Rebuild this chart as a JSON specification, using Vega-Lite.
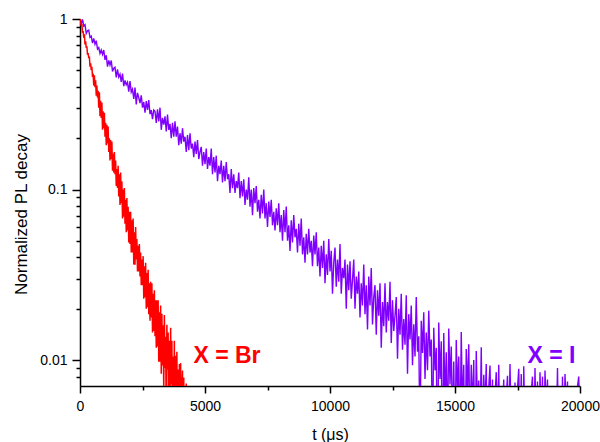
{
"$schema": "https://vega.github.io/schema/vega-lite/v6.json",
"width": 500,
"height": 367,
"autosize": {"type": "none"},
"padding": {"left": 80, "top": 19, "right": 20, "bottom": 56},
"background": "white",
"config": {"view": {"stroke": null}},
"datasets": {
"iodide": [
{"t":0,"v":1},{"t":50,"v":0.936},{"t":100,"v":0.994},{"t":150,"v":0.910},{"t":200,"v":0.926},{"t":250,"v":0.824},{"t":300,"v":0.852},{"t":350,"v":0.861},{"t":400,"v":0.780},{"t":450,"v":0.793},
{"t":500,"v":0.722},{"t":550,"v":0.770},{"t":600,"v":0.711},{"t":650,"v":0.746},{"t":700,"v":0.666},{"t":750,"v":0.680},{"t":800,"v":0.628},{"t":850,"v":0.658},{"t":900,"v":0.620},{"t":950,"v":0.658},
{"t":1000,"v":0.576},{"t":1050,"v":0.613},{"t":1100,"v":0.525},{"t":1150,"v":0.572},{"t":1200,"v":0.537},{"t":1250,"v":0.571},{"t":1300,"v":0.493},{"t":1350,"v":0.515},{"t":1400,"v":0.521},{"t":1450,"v":0.454},
{"t":1500,"v":0.507},{"t":1550,"v":0.457},{"t":1600,"v":0.475},{"t":1650,"v":0.428},{"t":1700,"v":0.479},{"t":1750,"v":0.404},{"t":1800,"v":0.437},{"t":1850,"v":0.411},{"t":1900,"v":0.426},{"t":1950,"v":0.375},
{"t":2000,"v":0.432},{"t":2050,"v":0.373},{"t":2100,"v":0.388},{"t":2150,"v":0.340},{"t":2200,"v":0.396},{"t":2250,"v":0.316},{"t":2300,"v":0.369},{"t":2350,"v":0.346},{"t":2400,"v":0.321},{"t":2450,"v":0.357},
{"t":2500,"v":0.302},{"t":2550,"v":0.326},{"t":2600,"v":0.282},{"t":2650,"v":0.330},{"t":2700,"v":0.293},{"t":2750,"v":0.335},{"t":2800,"v":0.277},{"t":2850,"v":0.292},{"t":2900,"v":0.259},{"t":2950,"v":0.293},
{"t":3000,"v":0.288},{"t":3050,"v":0.246},{"t":3100,"v":0.295},{"t":3150,"v":0.251},{"t":3200,"v":0.302},{"t":3250,"v":0.224},{"t":3300,"v":0.263},{"t":3350,"v":0.240},{"t":3400,"v":0.269},{"t":3450,"v":0.219},
{"t":3500,"v":0.275},{"t":3550,"v":0.224},{"t":3600,"v":0.243},{"t":3650,"v":0.200},{"t":3700,"v":0.246},{"t":3750,"v":0.204},{"t":3800,"v":0.251},{"t":3850,"v":0.204},{"t":3900,"v":0.234},{"t":3950,"v":0.182},
{"t":4000,"v":0.214},{"t":4050,"v":0.186},{"t":4100,"v":0.229},{"t":4150,"v":0.191},{"t":4200,"v":0.204},{"t":4250,"v":0.166},{"t":4300,"v":0.209},{"t":4350,"v":0.170},{"t":4400,"v":0.214},{"t":4450,"v":0.174},
{"t":4500,"v":0.186},{"t":4550,"v":0.155},{"t":4600,"v":0.191},{"t":4650,"v":0.162},{"t":4700,"v":0.195},{"t":4750,"v":0.151},{"t":4800,"v":0.166},{"t":4850,"v":0.178},{"t":4900,"v":0.138},{"t":4950,"v":0.166},
{"t":5000,"v":0.141},{"t":5050,"v":0.174},{"t":5100,"v":0.132},{"t":5150,"v":0.155},{"t":5200,"v":0.138},{"t":5250,"v":0.174},{"t":5300,"v":0.123},{"t":5350,"v":0.155},{"t":5400,"v":0.126},{"t":5450,"v":0.158},
{"t":5500,"v":0.112},{"t":5550,"v":0.138},{"t":5600,"v":0.123},{"t":5650,"v":0.148},{"t":5700,"v":0.110},{"t":5750,"v":0.138},{"t":5800,"v":0.112},{"t":5850,"v":0.145},{"t":5900,"v":0.115},{"t":5950,"v":0.123},
{"t":6000,"v":0.0955},{"t":6050,"v":0.132},{"t":6100,"v":0.102},{"t":6150,"v":0.123},{"t":6200,"v":0.0955},{"t":6250,"v":0.112},{"t":6300,"v":0.102},{"t":6350,"v":0.126},{"t":6400,"v":0.0891},{"t":6450,"v":0.112},
{"t":6500,"v":0.0912},{"t":6550,"v":0.115},{"t":6600,"v":0.0813},{"t":6650,"v":0.100},{"t":6700,"v":0.0871},{"t":6750,"v":0.118},{"t":6800,"v":0.0794},{"t":6850,"v":0.100},{"t":6900,"v":0.0708},{"t":6950,"v":0.102},
{"t":7000,"v":0.0832},{"t":7050,"v":0.105},{"t":7100,"v":0.0741},{"t":7150,"v":0.0871},{"t":7200,"v":0.0676},{"t":7250,"v":0.0933},{"t":7300,"v":0.0724},{"t":7350,"v":0.100},{"t":7400,"v":0.0676},{"t":7450,"v":0.0832},
{"t":7500,"v":0.0603},{"t":7550,"v":0.0851},{"t":7600,"v":0.0692},{"t":7650,"v":0.0871},{"t":7700,"v":0.0617},{"t":7750,"v":0.0741},{"t":7800,"v":0.0575},{"t":7850,"v":0.0776},{"t":7900,"v":0.0617},{"t":7950,"v":0.0832},
{"t":8000,"v":0.0562},{"t":8050,"v":0.0708},{"t":8100,"v":0.0501},{"t":8150,"v":0.0759},{"t":8200,"v":0.0562},{"t":8250,"v":0.0794},{"t":8300,"v":0.0501},{"t":8350,"v":0.0617},{"t":8400,"v":0.0437},{"t":8450,"v":0.0661},
{"t":8500,"v":0.0490},{"t":8550,"v":0.0708},{"t":8600,"v":0.0525},{"t":8650,"v":0.0589},{"t":8700,"v":0.0427},{"t":8750,"v":0.0631},{"t":8800,"v":0.0468},{"t":8850,"v":0.0676},{"t":8900,"v":0.0417},{"t":8950,"v":0.0525},
{"t":9000,"v":0.0372},{"t":9050,"v":0.0550},{"t":9100,"v":0.0417},{"t":9150,"v":0.0589},{"t":9200,"v":0.0427},{"t":9250,"v":0.0501},{"t":9300,"v":0.0355},{"t":9350,"v":0.0537},{"t":9400,"v":0.0417},{"t":9450,"v":0.0562},
{"t":9500,"v":0.0355},{"t":9550,"v":0.0457},{"t":9600,"v":0.0309},{"t":9650,"v":0.0468},{"t":9700,"v":0.0347},{"t":9750,"v":0.0501},{"t":9800,"v":0.0282},{"t":9850,"v":0.0417},{"t":9900,"v":0.0316},{"t":9950,"v":0.0513},
{"t":10000,"v":0.0331},{"t":10050,"v":0.0437},{"t":10100,"v":0.0245},{"t":10150,"v":0.0372},{"t":10200,"v":0.0457},{"t":10250,"v":0.0269},{"t":10300,"v":0.0389},{"t":10350,"v":0.0288},{"t":10400,"v":0.0479},{"t":10450,"v":0.0245},
{"t":10500,"v":0.0347},{"t":10550,"v":0.0302},{"t":10600,"v":0.0389},{"t":10650,"v":0.0200},{"t":10700,"v":0.0363},{"t":10750,"v":0.0257},{"t":10800,"v":0.0380},{"t":10850,"v":0.0229},{"t":10900,"v":0.0295},{"t":10950,"v":0.0389},
{"t":11000,"v":0.0200},{"t":11050,"v":0.0309},{"t":11100,"v":0.0245},{"t":11150,"v":0.0331},{"t":11200,"v":0.0178},{"t":11250,"v":0.0282},{"t":11300,"v":0.0209},{"t":11350,"v":0.0363},{"t":11400,"v":0.0186},{"t":11450,"v":0.0275},
{"t":11500,"v":0.0151},{"t":11550,"v":0.0309},{"t":11600,"v":0.0209},{"t":11650,"v":0.0347},{"t":11700,"v":0.0162},{"t":11750,"v":0.0234},{"t":11800,"v":0.0275},{"t":11850,"v":0.0141},{"t":11900,"v":0.0257},{"t":11950,"v":0.0182},
{"t":12000,"v":0.0282},{"t":12050,"v":0.0118},{"t":12100,"v":0.0219},{"t":12150,"v":0.0158},{"t":12200,"v":0.0282},{"t":12250,"v":0.0145},{"t":12300,"v":0.0219},{"t":12350,"v":0.0170},{"t":12400,"v":0.0288},{"t":12450,"v":0.0126},
{"t":12500,"v":0.0224},{"t":12550,"v":0.0148},{"t":12600,"v":0.0182},{"t":12650,"v":0.0234},{"t":12700,"v":0.0102},{"t":12750,"v":0.0200},{"t":12800,"v":0.0141},{"t":12850,"v":0.0245},{"t":12900,"v":0.0115},{"t":12950,"v":0.0174},
{"t":13000,"v":0.0123},{"t":13050,"v":0.0240},{"t":13100,"v":0.00832},{"t":13150,"v":0.0186},{"t":13200,"v":0.0132},{"t":13250,"v":0.0209},{"t":13300,"v":0.00933},{"t":13350,"v":0.0162},{"t":13400,"v":0.0105},{"t":13450,"v":0.0234},
{"t":13500,"v":0.0112},{"t":13550,"v":0.0138},{"t":13600,"v":0.0033},{"t":13650,"v":0.0170},{"t":13700,"v":0.0110},{"t":13750,"v":0.0191},{"t":13800,"v":0.00776},{"t":13850,"v":0.0145},{"t":13900,"v":0.00871},{"t":13950,"v":0.0195},
{"t":14000,"v":0.0105},{"t":14050,"v":0.0132},{"t":14100,"v":0.0030},{"t":14150,"v":0.0155},{"t":14200,"v":0.00871},{"t":14250,"v":0.0118},{"t":14300,"v":0.0020},{"t":14350,"v":0.0166},{"t":14400,"v":0.00776},{"t":14450,"v":0.0129},
{"t":14500,"v":0.0020},{"t":14550,"v":0.0144},{"t":14600,"v":0.0058},{"t":14650,"v":0.0111},{"t":14700,"v":0.0035},{"t":14750,"v":0.0153},{"t":14800,"v":0.0072},{"t":14850,"v":0.0120},{"t":14900,"v":0.0039},{"t":14950,"v":0.0098},
{"t":15000,"v":0.0027},{"t":15050,"v":0.0131},{"t":15100,"v":0.0065},{"t":15150,"v":0.0105},{"t":15200,"v":0.0032},{"t":15250,"v":0.0146},{"t":15300,"v":0.0050},{"t":15350,"v":0.0094},{"t":15400,"v":0.0017},{"t":15450,"v":0.0116},
{"t":15500,"v":0.0065},{"t":15550,"v":0.0124},{"t":15600,"v":0.0033},{"t":15650,"v":0.0094},{"t":15700,"v":0.0051},{"t":15750,"v":0.0100},{"t":15800,"v":0.0019},{"t":15850,"v":0.0113},{"t":15900,"v":0.0052},{"t":15950,"v":0.0076},
{"t":16000,"v":0.0035},{"t":16050,"v":0.0119},{"t":16100,"v":0.0028},{"t":16150,"v":0.0082},{"t":16200,"v":0.0051},{"t":16250,"v":0.0095},{"t":16300,"v":0.0019},{"t":16350,"v":0.0069},{"t":16400,"v":0.0093},{"t":16450,"v":0.0038},
{"t":16500,"v":0.0077},{"t":16550,"v":0.0022},{"t":16600,"v":0.0061},{"t":16650,"v":0.0085},{"t":16700,"v":0.0040},{"t":16750,"v":0.0094},{"t":16800,"v":0.0024},{"t":16850,"v":0.0068},{"t":16900,"v":0.0048},{"t":16950,"v":0.0077},
{"t":17000,"v":0.0012},{"t":17050,"v":0.0061},{"t":17100,"v":0.0081},{"t":17150,"v":0.0031},{"t":17200,"v":0.0095},{"t":17250,"v":0.0040},{"t":17300,"v":0.0055},{"t":17350,"v":0.0020},{"t":17400,"v":0.0074},{"t":17450,"v":0.0034},
{"t":17500,"v":0.0068},{"t":17550,"v":0.0089},{"t":17600,"v":0.0028},{"t":17650,"v":0.0083},{"t":17700,"v":0.0018},{"t":17750,"v":0.0092},{"t":17800,"v":0.0037},{"t":17850,"v":0.0057},{"t":17900,"v":0.0022},{"t":17950,"v":0.0062},
{"t":18000,"v":0.0012},{"t":18050,"v":0.0066},{"t":18100,"v":0.0080},{"t":18150,"v":0.0025},{"t":18200,"v":0.0090},{"t":18250,"v":0.0035},{"t":18300,"v":0.0075},{"t":18350,"v":0.0015},{"t":18400,"v":0.0085},{"t":18450,"v":0.0040},
{"t":18500,"v":0.0080},{"t":18550,"v":0.0020},{"t":18600,"v":0.0087},{"t":18650,"v":0.0050},{"t":18700,"v":0.0077},{"t":18750,"v":0.0015},{"t":18800,"v":0.0055},{"t":18850,"v":0.0035},{"t":18900,"v":0.0065},{"t":18950,"v":0.0010},
{"t":19000,"v":0.0060},{"t":19050,"v":0.0035},{"t":19100,"v":0.0090},{"t":19150,"v":0.0025},{"t":19200,"v":0.0055},{"t":19250,"v":0.0020},{"t":19300,"v":0.0080},{"t":19350,"v":0.0030},{"t":19400,"v":0.0083},{"t":19450,"v":0.0050},
{"t":19500,"v":0.0075},{"t":19550,"v":0.0015},{"t":19600,"v":0.0060},{"t":19650,"v":0.0040},{"t":19700,"v":0.0065},{"t":19750,"v":0.0010},{"t":19800,"v":0.0055},{"t":19850,"v":0.0025},{"t":19900,"v":0.0070},{"t":19950,"v":0.0080},
{"t":20000,"v":0.0035}
],
"bromide": [
{"t":0,"v":1},{"t":25,"v":0.977},{"t":50,"v":0.912},{"t":75,"v":0.933},{"t":100,"v":0.832},{"t":125,"v":0.851},{"t":150,"v":0.776},{"t":175,"v":0.813},{"t":200,"v":0.708},{"t":225,"v":0.741},
{"t":250,"v":0.676},{"t":275,"v":0.692},{"t":300,"v":0.617},{"t":325,"v":0.631},{"t":350,"v":0.589},{"t":375,"v":0.603},{"t":400,"v":0.525},{"t":425,"v":0.550},{"t":450,"v":0.501},{"t":475,"v":0.525},
{"t":500,"v":0.457},{"t":525,"v":0.479},{"t":550,"v":0.407},{"t":575,"v":0.468},{"t":600,"v":0.398},{"t":625,"v":0.437},{"t":650,"v":0.355},{"t":675,"v":0.407},{"t":700,"v":0.347},{"t":725,"v":0.380},
{"t":750,"v":0.302},{"t":775,"v":0.372},{"t":800,"v":0.269},{"t":825,"v":0.331},{"t":850,"v":0.263},{"t":875,"v":0.324},{"t":900,"v":0.224},{"t":925,"v":0.288},{"t":950,"v":0.229},{"t":975,"v":0.282},
{"t":1000,"v":0.204},{"t":1025,"v":0.246},{"t":1050,"v":0.182},{"t":1075,"v":0.240},{"t":1100,"v":0.186},{"t":1125,"v":0.234},{"t":1150,"v":0.166},{"t":1175,"v":0.200},{"t":1200,"v":0.148},{"t":1225,"v":0.195},
{"t":1250,"v":0.151},{"t":1275,"v":0.191},{"t":1300,"v":0.129},{"t":1325,"v":0.162},{"t":1350,"v":0.126},{"t":1375,"v":0.166},{"t":1400,"v":0.123},{"t":1425,"v":0.148},{"t":1450,"v":0.105},{"t":1475,"v":0.132},
{"t":1500,"v":0.102},{"t":1525,"v":0.138},{"t":1550,"v":0.0912},{"t":1575,"v":0.123},{"t":1600,"v":0.0813},{"t":1625,"v":0.126},{"t":1650,"v":0.0832},{"t":1675,"v":0.112},{"t":1700,"v":0.0676},{"t":1725,"v":0.100},
{"t":1750,"v":0.0692},{"t":1775,"v":0.102},{"t":1800,"v":0.0631},{"t":1825,"v":0.0871},{"t":1850,"v":0.0562},{"t":1875,"v":0.0891},{"t":1900,"v":0.0575},{"t":1925,"v":0.0794},{"t":1950,"v":0.0490},{"t":1975,"v":0.0741},
{"t":2000,"v":0.0479},{"t":2025,"v":0.0741},{"t":2050,"v":0.0427},{"t":2075,"v":0.0661},{"t":2100,"v":0.0427},{"t":2125,"v":0.0676},{"t":2150,"v":0.0363},{"t":2175,"v":0.0562},{"t":2200,"v":0.0363},{"t":2225,"v":0.0603},
{"t":2250,"v":0.0389},{"t":2275,"v":0.0513},{"t":2300,"v":0.0331},{"t":2325,"v":0.0468},{"t":2350,"v":0.0331},{"t":2375,"v":0.0479},{"t":2400,"v":0.0309},{"t":2425,"v":0.0427},{"t":2450,"v":0.0275},{"t":2475,"v":0.0389},
{"t":2500,"v":0.0275},{"t":2525,"v":0.0407},{"t":2550,"v":0.0229},{"t":2575,"v":0.0355},{"t":2600,"v":0.0234},{"t":2625,"v":0.0372},{"t":2650,"v":0.0200},{"t":2675,"v":0.0324},{"t":2700,"v":0.0204},{"t":2725,"v":0.0339},
{"t":2750,"v":0.0186},{"t":2775,"v":0.0282},{"t":2800,"v":0.0170},{"t":2825,"v":0.0288},{"t":2850,"v":0.0178},{"t":2875,"v":0.0282},{"t":2900,"v":0.0145},{"t":2925,"v":0.0245},{"t":2950,"v":0.0148},{"t":2975,"v":0.0257},
{"t":3000,"v":0.0138},{"t":3025,"v":0.0224},{"t":3050,"v":0.0118},{"t":3075,"v":0.0224},{"t":3100,"v":0.0120},{"t":3125,"v":0.0224},{"t":3150,"v":0.00977},{"t":3175,"v":0.0191},{"t":3200,"v":0.00977},{"t":3225,"v":0.0209},
{"t":3250,"v":0.00832},{"t":3275,"v":0.0187},{"t":3300,"v":0.0093},{"t":3325,"v":0.0160},{"t":3350,"v":0.0067},{"t":3375,"v":0.0184},{"t":3400,"v":0.0090},{"t":3425,"v":0.0137},{"t":3450,"v":0.0044},{"t":3475,"v":0.0161},
{"t":3500,"v":0.0088},{"t":3525,"v":0.0145},{"t":3550,"v":0.0042},{"t":3575,"v":0.0130},{"t":3600,"v":0.0057},{"t":3625,"v":0.0155},{"t":3650,"v":0.0072},{"t":3675,"v":0.0130},{"t":3700,"v":0.0037},{"t":3725,"v":0.0105},
{"t":3750,"v":0.0053},{"t":3775,"v":0.0130},{"t":3800,"v":0.0018},{"t":3825,"v":0.0106},{"t":3850,"v":0.0054},{"t":3875,"v":0.0112},{"t":3900,"v":0.0030},{"t":3925,"v":0.0088},{"t":3950,"v":0.0016},{"t":3975,"v":0.0095},
{"t":4000,"v":0.0043},{"t":4025,"v":0.0096},{"t":4050,"v":0.0020},{"t":4075,"v":0.0068},{"t":4100,"v":0.0087},{"t":4125,"v":0.0025},{"t":4150,"v":0.0079},{"t":4175,"v":0.0032},{"t":4200,"v":0.0066},{"t":4225,"v":0.0020},
{"t":4250,"v":0.0073},{"t":4275,"v":0.0027},{"t":4300,"v":0.0056},{"t":4325,"v":0.0025},{"t":4350,"v":0.0049},{"t":4375,"v":0.0023},{"t":4400,"v":0.0042}
],
"labels": [
{"t":5880,"v":0.0096,"label":"X = Br","s":"Br"},
{"t":18860,"v":0.0096,"label":"X = I","s":"I"}
]
},
"encoding": {
"x": {"field": "t", "type": "quantitative", "scale": {"domain": [0, 20000], "nice": false, "zero": false},
"axis": {"orient": "bottom", "values": [0, 2500, 5000, 7500, 10000, 12500, 15000, 17500, 20000], "format": "d",
"labelExpr": "datum.value % 5000 == 0 ? datum.label : ''",
"title": "t (μs)", "grid": false,
"tickSize": {"condition": {"test": "datum.value % 5000 == 0", "value": 7}, "value": 4},
"tickWidth": 1.5, "tickColor": "#000", "domainColor": "#000", "domainWidth": 1.5,
"labelFont": "Liberation Sans", "labelFontSize": 14, "labelColor": "#000", "labelPadding": 6, "labelFlush": false, "labelOverlap": false, "labelBound": false,
"titleFont": "Liberation Sans", "titleFontSize": 16, "titleFontWeight": "normal", "titleColor": "#000", "titleBaseline": "alphabetic", "titleY": 53}},
"y": {"field": "v", "type": "quantitative", "scale": {"type": "log", "domain": [0.00705, 1], "nice": false},
"axis": {"orient": "left", "values": [0.008, 0.009, 0.01, 0.02, 0.03, 0.04, 0.05, 0.06, 0.07, 0.08, 0.09, 0.1, 0.2, 0.3, 0.4, 0.5, 0.6, 0.7, 0.8, 0.9, 1], "format": "~g",
"labelExpr": "(datum.value == 0.01 || datum.value == 0.1 || datum.value == 1) ? datum.label : ''",
"title": "Normalized PL decay", "grid": false,
"tickSize": {"condition": {"test": "datum.value == 0.01 || datum.value == 0.1 || datum.value == 1", "value": 8}, "value": 4},
"tickWidth": 1.5, "tickColor": "#000", "domainColor": "#000", "domainWidth": 1.5,
"labelFont": "Liberation Sans", "labelFontSize": 14, "labelColor": "#000", "labelPadding": 5, "labelFlush": false, "labelOverlap": false, "labelBound": false,
"titleFont": "Liberation Sans", "titleFontSize": 17, "titleFontWeight": "normal", "titleColor": "#000", "titleBaseline": "alphabetic", "titleAngle": -90, "titleAlign": "center", "titleX": -54, "titleY": 195}}
},
"layer": [
{
"data": {"name": "iodide"},
"mark": {"type": "line", "color": "#8000ff", "strokeWidth": 1.4, "clip": true}
},
{
"data": {"name": "bromide"},
"mark": {"type": "line", "color": "#ff0000", "strokeWidth": 1.5, "clip": true}
},
{
"data": {"name": "labels"},
"mark": {"type": "text", "font": "Liberation Sans", "fontSize": 23, "fontWeight": "bold", "align": "center", "baseline": "alphabetic"},
"encoding": {
"text": {"field": "label"},
"color": {"field": "s", "type": "nominal", "scale": {"domain": ["Br", "I"], "range": ["#ff0000", "#8000ff"]}, "legend": null}
}
}
]
}
